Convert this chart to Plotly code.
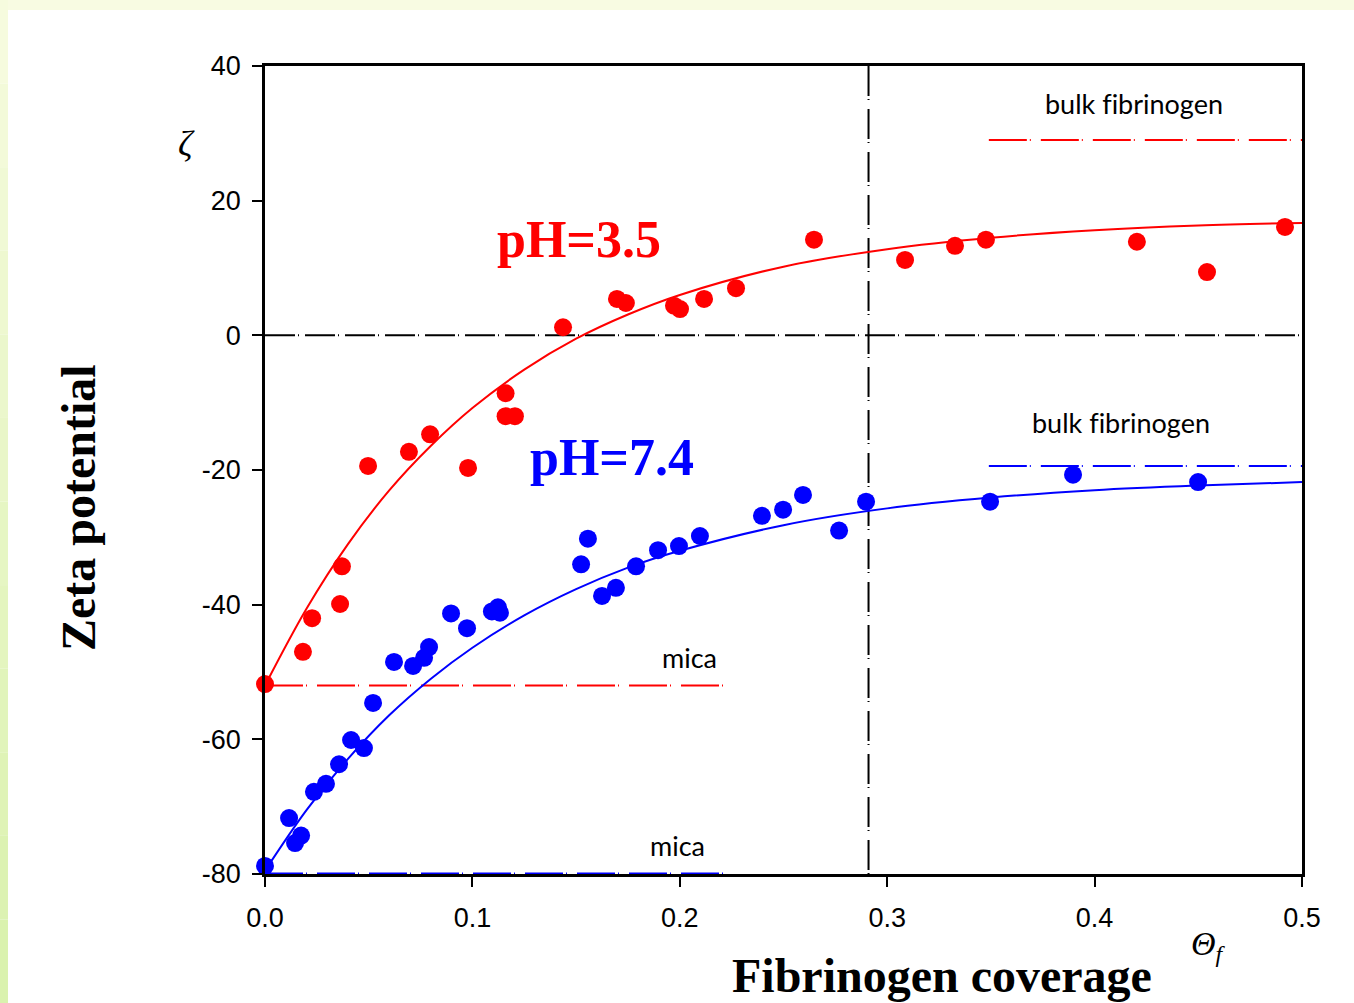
import plotly.graph_objects as go

# ---------------- data ----------------
red_x = [0.0, 0.0183, 0.0227, 0.0362, 0.0371, 0.0497, 0.0694, 0.0796, 0.0979, 0.116, 0.116, 0.1205,
         0.1437, 0.1697, 0.174, 0.1972, 0.2001, 0.2117, 0.2271, 0.2647, 0.3086, 0.3327, 0.3476,
         0.4204, 0.4542, 0.4918]
red_y = [-51.8, -47.0, -42.0, -39.9, -34.3, -19.4, -17.3, -14.7, -19.7, -8.6, -12.0, -12.0,
         1.2, 5.4, 4.8, 4.4, 3.9, 5.4, 7.0, 14.2, 11.2, 13.3, 14.2,
         13.9, 9.4, 16.1]

blue_x = [0.0, 0.0116, 0.0145, 0.0174, 0.0236, 0.0294, 0.0357, 0.0415, 0.0477, 0.0521, 0.0622,
          0.0714, 0.0767, 0.0791, 0.0897, 0.0974, 0.1094, 0.1123, 0.1133, 0.1524, 0.1557, 0.1625,
          0.1692, 0.1789, 0.1895, 0.1996, 0.2097, 0.2396, 0.2498, 0.2594, 0.2768, 0.2898,
          0.3496, 0.3896, 0.4499]
blue_y = [-78.8, -71.7, -75.4, -74.3, -67.8, -66.6, -63.7, -60.1, -61.3, -54.6, -48.5,
          -49.1, -47.9, -46.3, -41.3, -43.5, -41.0, -40.4, -41.2, -34.0, -30.2, -38.7,
          -37.5, -34.3, -31.9, -31.3, -29.8, -26.8, -25.9, -23.7, -29.0, -24.7,
          -24.7, -20.7, -21.8]

# fitted curves
fit_x = [0.0, 0.02, 0.04, 0.06, 0.08, 0.10, 0.125, 0.15, 0.175, 0.2, 0.25, 0.3, 0.35, 0.4, 0.45, 0.5]
red_fit_y = [-52.0, -40.6, -31.0, -23.0, -16.4, -10.8, -5.1, -0.5, 3.1, 6.0, 10.2, 12.8, 14.5, 15.6, 16.3, 16.7]
blue_fit_y = [-79.5, -70.5, -62.9, -56.4, -51.0, -46.4, -41.6, -37.7, -34.5, -32.0, -28.2, -25.7, -24.1, -23.0, -22.3, -21.8]

# reference levels
zero_level = 0.0
jamming_coverage = 0.291
mica_red = -52.0
mica_blue = -80.0
bulk_red = 29.0
bulk_blue = -19.4
mica_span = [0.0, 0.223]
bulk_span = [0.349, 0.5]

x_ticks = [0.0, 0.1, 0.2, 0.3, 0.4, 0.5]
x_tick_labels = ["0.0", "0.1", "0.2", "0.3", "0.4", "0.5"]
y_ticks = [-80, -60, -40, -20, 0, 20, 40]
y_tick_labels = ["-80", "-60", "-40", "-20", "0", "20", "40"]

RED = "#FF0000"
BLUE = "#0000FF"
DASH_K = "30px,3px,1px,6px"
DASH_V = "30px,3px,1px,9px"
DASH_C = "38px,3px,1px,10px"

fig = go.Figure()

# reference dashed lines
fig.add_trace(go.Scatter(x=[0.0, 0.5], y=[zero_level, zero_level], mode="lines",
                         line=dict(color="black", width=2, dash=DASH_K), hoverinfo="skip"))
fig.add_trace(go.Scatter(x=[jamming_coverage, jamming_coverage], y=[40, -80], mode="lines",
                         line=dict(color="black", width=2, dash=DASH_V), hoverinfo="skip"))
fig.add_trace(go.Scatter(x=mica_span, y=[mica_red, mica_red], mode="lines",
                         line=dict(color=RED, width=2, dash=DASH_C), hoverinfo="skip"))
fig.add_trace(go.Scatter(x=mica_span, y=[mica_blue, mica_blue], mode="lines", cliponaxis=False,
                         line=dict(color=BLUE, width=3, dash=DASH_C), hoverinfo="skip"))
fig.add_trace(go.Scatter(x=bulk_span, y=[bulk_red, bulk_red], mode="lines",
                         line=dict(color=RED, width=2, dash=DASH_C), hoverinfo="skip"))
fig.add_trace(go.Scatter(x=bulk_span, y=[bulk_blue, bulk_blue], mode="lines",
                         line=dict(color=BLUE, width=2, dash=DASH_C), hoverinfo="skip"))

# fits
fig.add_trace(go.Scatter(x=fit_x, y=red_fit_y, mode="lines", line=dict(color=RED, width=2, shape="spline")))
fig.add_trace(go.Scatter(x=fit_x, y=blue_fit_y, mode="lines", line=dict(color=BLUE, width=2, shape="spline")))

# data
fig.add_trace(go.Scatter(x=red_x, y=red_y, mode="markers", cliponaxis=False,
                         marker=dict(color=RED, size=18, line=dict(width=0))))
fig.add_trace(go.Scatter(x=blue_x, y=blue_y, mode="markers", cliponaxis=False,
                         marker=dict(color=BLUE, size=18, line=dict(width=0))))

# background border strips (paper coords)
L, T, PW, PH = 265, 66, 1037, 808
def px_x(p):
    return (p - L) / PW
def px_y(p):
    return (T + PH - p) / PH

shapes = []
shapes.append(dict(type="rect", xref="paper", yref="paper", x0=px_x(0), x1=px_x(1354),
                   y0=px_y(10), y1=px_y(0), fillcolor="#F8FBE2", line=dict(width=0), layer="below"))
n = 12
for i in range(n):
    t = i / (n - 1)
    r = int(0xF6 + (0xDA - 0xF6) * t)
    g = int(0xFB + (0xF2 - 0xFB) * t)
    b = int(0xDE + (0xAE - 0xDE) * t)
    shapes.append(dict(type="rect", xref="paper", yref="paper", x0=px_x(0), x1=px_x(8),
                       y0=px_y(1003 * (i + 1) / n), y1=px_y(1003 * i / n),
                       fillcolor=f"rgb({r},{g},{b})", line=dict(width=0), layer="below"))

serif = "Liberation Serif, Times New Roman, serif"
sans = "Liberation Sans, Arial, sans-serif"
cal = "Lato, Carlito, Calibri, sans-serif"
bulk_text = "bulk f\u200cibrinogen"

def ann(x, y, text, font, paper=False, **kw):
    d = dict(x=x, y=y, text=text, showarrow=False, font=font, xanchor="center", yanchor="middle")
    if paper:
        d.update(xref="paper", yref="paper")
    d.update(kw)
    return d

annotations = [
    ann(0.1514, 14.2, "<b>pH=3.5</b>", dict(family=serif, size=52, color=RED)),
    ann(0.1673, -18.1, "<b>pH=7.4</b>", dict(family=serif, size=52, color=BLUE)),
    ann(0.419, 34.4, bulk_text, dict(family=cal, size=27, color="black")),
    ann(0.4127, -13.0, bulk_text, dict(family=cal, size=27, color="black")),
    ann(0.2049, -47.9, "mica", dict(family=cal, size=27, color="black")),
    ann(0.1991, -75.8, "mica", dict(family=cal, size=27, color="black")),
    ann(px_x(186), px_y(144), "<i>ζ</i>", dict(family=serif, size=36, color="black"), paper=True),
    ann(px_x(78), px_y(508), "<b>Zeta potential</b>", dict(family=serif, size=48, color="black"),
        paper=True, textangle=-90),
    ann(px_x(942), px_y(975), "<b>Fibrinogen coverage</b>", dict(family=serif, size=48, color="black"),
        paper=True),
    ann(px_x(1208), px_y(946), "<i>Θ<sub>f</sub></i>", dict(family=serif, size=34, color="black"), paper=True),
]

fig.update_layout(
    width=1354, height=1003,
    margin=dict(l=L, r=1354 - L - PW, t=T, b=1003 - T - PH),
    paper_bgcolor="white", plot_bgcolor="white",
    showlegend=False,
    shapes=shapes,
    annotations=annotations,
    xaxis=dict(range=[0, 0.5], tickvals=x_ticks, ticktext=x_tick_labels, showgrid=False, zeroline=False,
               showline=True, linecolor="black", linewidth=2.5, mirror=True,
               ticks="outside", ticklen=10, tickwidth=2, tickcolor="black",
               ticklabelstandoff=8,
               tickfont=dict(family=sans, size=27, color="black")),
    yaxis=dict(range=[-80, 40], tickvals=y_ticks, ticktext=y_tick_labels, showgrid=False, zeroline=False,
               showline=True, linecolor="black", linewidth=2.5, mirror=True,
               ticks="outside", ticklen=10, tickwidth=2, tickcolor="black",
               ticklabelstandoff=6,
               tickfont=dict(family=sans, size=27, color="black")),
)

fig.write_html("out.html")
